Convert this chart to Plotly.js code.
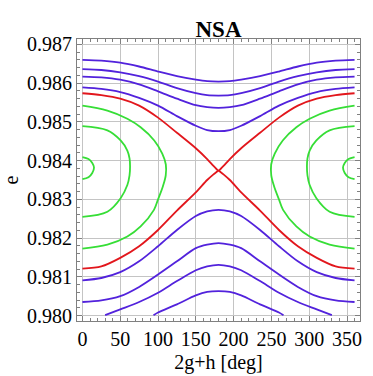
<!DOCTYPE html>
<html>
<head>
<meta charset="utf-8">
<script src="https://cdn.plot.ly/plotly-3.0.1.min.js"></script>
<style>html,body{margin:0;padding:0;background:#fff;}#chart{width:373px;height:376px;}</style>
</head>
<body>
<div id="chart"></div>
<script>
// ---- data ----
const degC = [0,25,50,75,100,125,150,165,180,195,210,235,260,285,310,335,360];
const eU1 = [0.98660,0.98658,0.98653,0.98643,0.98630,0.98618,0.98609,0.98605,0.98604,0.98605,0.98609,0.98618,0.98630,0.98643,0.98653,0.98658,0.98660];
const eU2 = [0.98636,0.98634,0.98628,0.98618,0.98604,0.98587,0.98574,0.98569,0.98568,0.98569,0.98574,0.98587,0.98604,0.98618,0.98628,0.98634,0.98636];
const eU3 = [0.98617,0.98615,0.98609,0.98597,0.98579,0.98560,0.98543,0.98538,0.98536,0.98538,0.98543,0.98560,0.98579,0.98597,0.98609,0.98615,0.98617];
const eU4 = [0.98589,0.98585,0.98577,0.98562,0.98542,0.98515,0.98490,0.98479,0.98476,0.98479,0.98490,0.98515,0.98542,0.98562,0.98577,0.98585,0.98589];
const eL1 = [0.98091,0.98097,0.98112,0.98140,0.98179,0.98221,0.98257,0.98269,0.98273,0.98269,0.98257,0.98221,0.98179,0.98140,0.98112,0.98097,0.98091];
const eL2 = [0.98035,0.98039,0.98050,0.98074,0.98106,0.98140,0.98174,0.98183,0.98187,0.98183,0.98174,0.98140,0.98106,0.98074,0.98050,0.98039,0.98035];

const degL3 = [30,50,75,100,125,150,165,180,195,210,235,260,285,310,330];
const eL3 = [0.98001,0.98016,0.98035,0.98059,0.98089,0.98117,0.98127,0.98131,0.98127,0.98117,0.98089,0.98059,0.98035,0.98016,0.98001];
const degL4 = [94,100,125,150,165,180,195,210,235,260,266];
const eL4 = [0.98001,0.98008,0.98029,0.98052,0.98061,0.98063,0.98061,0.98052,0.98029,0.98008,0.98001];

const degRed = [0,25,50,75,100,125,150,165,173,177,180,183,187,195,210,235,260,285,310,335,360];
const eRedU = [0.98574,0.98569,0.98560,0.98542,0.98511,0.98472,0.98432,0.98404,0.98387,0.98379,0.98374,0.98379,0.98387,0.98404,0.98432,0.98472,0.98511,0.98542,0.98560,0.98569,0.98574];
const eRedL = [0.98121,0.98127,0.98149,0.98179,0.98221,0.98271,0.98318,0.98350,0.98364,0.98370,0.98374,0.98370,0.98364,0.98350,0.98318,0.98271,0.98221,0.98179,0.98149,0.98127,0.98121];

const degGOL = [0,33,59.4,77,95,105.6,110.3,110.2,106.5,100,94.6,77,59.4,33,0];
const degGOR = [360,327,300.6,283,265,254.4,249.7,249.8,253.5,260,265.4,283,300.6,327,360];
const eGO = [0.98542,0.98529,0.98508,0.98486,0.98452,0.98418,0.98390,0.98362,0.98334,0.98300,0.98273,0.98230,0.98204,0.98183,0.98173];

const degGIL = [0,33,50.5,59.4,62.3,63,62.3,59.4,50.5,33,0];
const degGIR = [360,327,309.5,300.6,297.7,297,297.7,300.6,309.5,327,360];
const eGI = [0.98489,0.98478,0.98452,0.98426,0.98406,0.98385,0.98362,0.98337,0.98303,0.98268,0.98255];

const degSL = [0,8,13,15.3,13,8,0];
const degSR = [360,352,347,344.7,347,352,360];
const eS = [0.98409,0.98404,0.98394,0.98382,0.98368,0.98357,0.98352];

const xTickVals = [0,50,100,150,200,250,300,350];
const yTickVals = [0.980,0.981,0.982,0.983,0.984,0.985,0.986,0.987];

// ---- styling ----
const BLUE = '#5222dc', RED = '#e2161c', GREEN = '#36de36';
const FONT = '"Liberation Serif", "Times New Roman", serif';
function tr(x, y, c, sm) {
  return {x: x, y: y, type: 'scatter', mode: 'lines', hoverinfo: 'skip',
          line: {color: c, width: 1.8, shape: 'spline', smoothing: sm || 0.8}};
}
const data = [
  tr(degC, eU1, BLUE), tr(degC, eU2, BLUE), tr(degC, eU3, BLUE), tr(degC, eU4, BLUE),
  tr(degC, eL1, BLUE), tr(degC, eL2, BLUE), tr(degL3, eL3, BLUE), tr(degL4, eL4, BLUE),
  tr(degGOL, eGO, GREEN, 1.0), tr(degGOR, eGO, GREEN, 1.0),
  tr(degGIL, eGI, GREEN, 1.0), tr(degGIR, eGI, GREEN, 1.0),
  tr(degSL, eS, GREEN, 1.0), tr(degSR, eS, GREEN, 1.0),
  tr(degRed, eRedU, RED), tr(degRed, eRedL, RED)
];
const axisCommon = {
  showline: true, linecolor: '#808080', linewidth: 1, mirror: 'ticks',
  ticks: 'inside', ticklen: 5, tickcolor: '#808080', tickwidth: 1,
  showgrid: true, gridcolor: '#c4c4c4', gridwidth: 1, zeroline: false,
  tickfont: {family: FONT, size: 20, color: '#000'},
  fixedrange: true
};
const layout = {
  width: 373, height: 376,
  margin: {l: 77, r: 13, t: 39, b: 55, pad: 0},
  paper_bgcolor: '#fff', plot_bgcolor: '#fff',
  showlegend: false,
  title: {text: '<b>NSA</b>', font: {family: FONT, size: 23, color: '#000'},
          xref: 'paper', x: 0.5, xanchor: 'center', yref: 'container', y: 0.922, yanchor: 'middle'},
  xaxis: Object.assign({}, axisCommon, {
    range: [-7.2, 367.2], tickvals: xTickVals, ticktext: xTickVals.map(String),
    minor: {dtick: 10, tick0: 0, ticks: 'inside', ticklen: 3, tickcolor: '#808080', showgrid: false},
    title: {text: '2g+h [deg]', font: {family: FONT, size: 20, color: '#000'}, standoff: 5}
  }),
  yaxis: Object.assign({}, axisCommon, {
    range: [0.97986, 0.98714], tickvals: yTickVals, ticktext: yTickVals.map(v => v.toFixed(3)),
    minor: {dtick: 0.0002, tick0: 0.98, ticks: 'inside', ticklen: 3, tickcolor: '#808080', showgrid: false},
    title: {text: 'e', font: {family: FONT, size: 20, color: '#000'}, standoff: 8}
  })
};
Plotly.newPlot('chart', data, layout, {staticPlot: true, displayModeBar: false});
</script>
</body>
</html>
